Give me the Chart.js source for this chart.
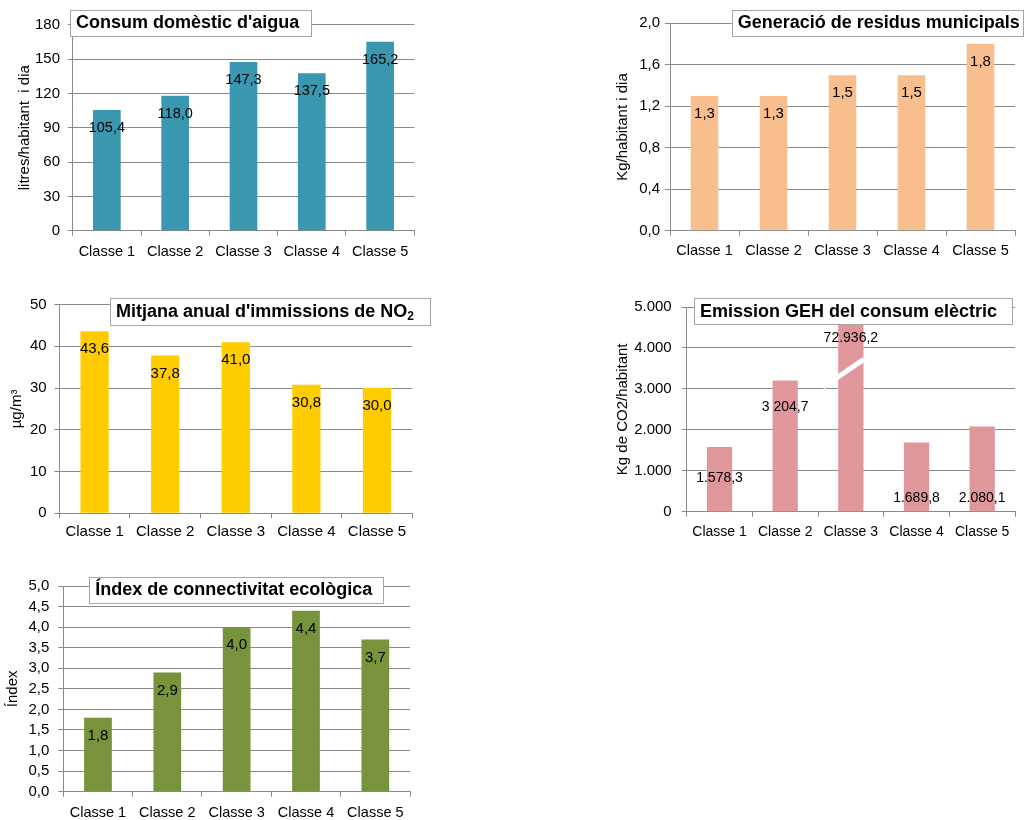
<!DOCTYPE html>
<html>
<head>
<meta charset="utf-8">
<title>Indicadors ambientals per classes</title>
<script src="https://cdn.jsdelivr.net/npm/chart.js@4/dist/chart.umd.min.js"></script>
<style>
  html, body { margin: 0; padding: 0; background: #fff; }
  body { position: relative; width: 1027px; height: 820px; overflow: hidden; }
  canvas { position: absolute; display: block; }
</style>
</head>
<body>
<canvas id="aigua"></canvas>
<canvas id="residus"></canvas>
<canvas id="no2"></canvas>
<canvas id="geh"></canvas>
<canvas id="connectivitat"></canvas>
<script>
// Categories shared by every panel
const classes = ['Classe 1', 'Classe 2', 'Classe 3', 'Classe 4', 'Classe 5'];

// Consum domèstic d'aigua (litres/habitant i dia)
const aiguaValues = [105.4, 118.0, 147.3, 137.5, 165.2];
const aiguaTicks = [0, 30, 60, 90, 120, 150, 180];

// Generació de residus municipals (Kg/habitant i dia)
const residusValues = [1.3, 1.3, 1.5, 1.5, 1.8];
const residusTicks = [0, 0.4, 0.8, 1.2, 1.6, 2.0];

// Mitjana anual d'immissions de NO2 (µg/m³)
const no2Values = [43.6, 37.8, 41.0, 30.8, 30.0];
const no2Ticks = [0, 10, 20, 30, 40, 50];

// Emission GEH del consum elèctric (Kg de CO2/habitant)
const gehValues = [1578.3, 3204.7, 72936.2, 1689.8, 2080.1];
const gehLabels = ['1.578,3', '3 204,7', '72.936,2', '1.689,8', '2.080,1'];
const gehTicks = [0, 1000, 2000, 3000, 4000, 5000];

// Índex de connectivitat ecològica
const connectivitatValues = [1.8, 2.9, 4.0, 4.4, 3.7];
const connectivitatTicks = [0, 0.5, 1.0, 1.5, 2.0, 2.5, 3.0, 3.5, 4.0, 4.5, 5.0];

const FONT = '"Liberation Sans", Arial, Helvetica, sans-serif';
const INK = '#000000';
const GRID = '#8a8a8a';

const int = v => String(Math.round(v));
const dec1 = v => v.toFixed(1).replace('.', ',');
const thousands = v => String(Math.round(v)).replace(/\B(?=(\d{3})+(?!\d))/g, '.');

// Value labels, the optional axis-break slash and the boxed heading
function decorFor(d) {
  return {
    id: 'decor',
    afterDatasetsDraw(chart) {
      const ctx = chart.ctx;
      const ys = chart.scales.y;
      const bars = chart.getDatasetMeta(0).data;
      ctx.save();
      if (d.slash) {
        const b = bars[d.slash.index];
        ctx.strokeStyle = '#ffffff';
        ctx.lineWidth = 5;
        ctx.beginPath();
        ctx.moveTo(b.x + d.slash.dx[0], ys.getPixelForValue(d.slash.v[0]));
        ctx.lineTo(b.x + d.slash.dx[1], ys.getPixelForValue(d.slash.v[1]));
        ctx.stroke();
      }
      ctx.font = d.labelSize + 'px ' + FONT;
      ctx.fillStyle = INK;
      ctx.textAlign = 'center';
      ctx.textBaseline = 'middle';
      bars.forEach((b, i) => {
        const y = d.labelAt ? ys.getPixelForValue(d.labelAt[i]) : b.y + d.drop;
        ctx.fillText(d.labels[i], b.x, y);
      });
      const bx = d.box;
      ctx.fillStyle = '#ffffff';
      ctx.fillRect(bx.x, bx.y, bx.w, bx.h);
      ctx.strokeStyle = '#a6a6a6';
      ctx.lineWidth = 1;
      ctx.strokeRect(Math.round(bx.x) + 0.5, Math.round(bx.y) + 0.5, Math.round(bx.w), Math.round(bx.h));
      let tx = bx.x + 6;
      const ty = bx.y + bx.h / 2 + 0.5;
      ctx.textAlign = 'left';
      ctx.fillStyle = INK;
      d.heading.forEach(part => {
        ctx.font = 'bold ' + (part.sub ? 12 : 18) + 'px ' + FONT;
        ctx.fillText(part.text, tx, ty + (part.sub ? 5 : 0));
        tx += ctx.measureText(part.text).width;
      });
      ctx.restore();
    }
  };
}

function panel(s) {
  const cv = document.getElementById(s.id);
  cv.width = s.w;
  cv.height = s.h;
  cv.style.left = s.left + 'px';
  cv.style.top = s.top + 'px';
  return new Chart(cv, {
    type: 'bar',
    data: {
      labels: classes,
      datasets: [{
        data: s.values,
        backgroundColor: s.color,
        borderWidth: 0,
        barPercentage: s.barPct,
        categoryPercentage: 1,
        clip: 0
      }]
    },
    options: {
      responsive: false,
      animation: false,
      events: [],
      layout: { padding: { top: s.padTop, right: s.padRight, left: 0, bottom: 0 } },
      plugins: { legend: { display: false }, tooltip: { enabled: false }, title: { display: false } },
      scales: {
        x: {
          offset: true,
          grid: { offset: true, drawOnChartArea: false, drawTicks: true, tickLength: 5, color: GRID, lineWidth: 1 },
          border: { display: true, color: GRID, width: 1 },
          ticks: { color: INK, font: { family: FONT, size: s.xSize }, padding: s.xPad, maxRotation: 0, autoSkip: false },
          afterFit: sc => { sc.height = s.xAxisH; }
        },
        y: {
          min: s.ticks[0],
          max: s.ticks[s.ticks.length - 1],
          grid: { color: GRID, lineWidth: 1, tickLength: 5 },
          border: { display: true, color: GRID, width: 1 },
          ticks: { color: INK, font: { family: FONT, size: 15 }, padding: s.yPad, autoSkip: false, callback: v => s.fmt(v) },
          afterBuildTicks: sc => { sc.ticks = s.ticks.map(v => ({ value: v })); },
          afterFit: sc => { sc.width = s.yAxisW; },
          title: { display: true, text: s.yTitle, color: INK, font: { family: FONT, size: 15 }, padding: { top: s.yTitlePad, bottom: 0 } }
        }
      }
    },
    plugins: [decorFor(s.decor)]
  });
}

panel({
  id: 'aigua', left: 0, top: 8, w: 420, h: 262,
  values: aiguaValues, ticks: aiguaTicks, fmt: int, color: '#3A97B0',
  yAxisW: 72.7, padTop: 16, padRight: 5.7, xAxisH: 39.3,
  xSize: 14.5, xPad: 7.3, yPad: 7.7, barPct: 0.405,
  yTitle: 'litres/habitant  i dia', yTitlePad: 16,
  decor: {
    labels: aiguaValues.map(dec1), labelSize: 14.5, drop: 18,
    box: { x: 70, y: 2, w: 241, h: 26 },
    heading: [{ text: "Consum domèstic d'aigua" }]
  }
});

panel({
  id: 'residus', left: 590, top: 8, w: 437, h: 262,
  values: residusValues, ticks: residusTicks, fmt: dec1, color: '#F9BE8E',
  yAxisW: 80, padTop: 15.3, padRight: 12, xAxisH: 39.3,
  xSize: 14.5, xPad: 6.3, yPad: 5, barPct: 0.4,
  yTitle: 'Kg/habitant i dia', yTitlePad: 24.3,
  decor: {
    labels: residusValues.map(dec1), labelSize: 15, drop: 18,
    box: { x: 141.7, y: 2, w: 291.3, h: 26 },
    heading: [{ text: 'Generació de residus municipals' }]
  }
});

panel({
  id: 'no2', left: 0, top: 288, w: 440, h: 262,
  values: no2Values, ticks: no2Ticks, fmt: int, color: '#FFCC00',
  yAxisW: 59.3, padTop: 14.3, padRight: 27.7, xAxisH: 36.7,
  xSize: 15, xPad: 4.7, yPad: 7.6, barPct: 0.4,
  yTitle: 'µg/m³', yTitlePad: 7.7,
  decor: {
    labels: no2Values.map(dec1), labelSize: 15, drop: 18,
    box: { x: 110, y: 10, w: 320, h: 27 },
    heading: [{ text: "Mitjana anual d'immissions de NO" }, { text: '2', sub: true }]
  }
});

panel({
  id: 'geh', left: 590, top: 288, w: 437, h: 262,
  values: gehValues, ticks: gehTicks, fmt: thousands, color: '#E0979C',
  yAxisW: 96.7, padTop: 15.3, padRight: 12, xAxisH: 38.3,
  xSize: 14, xPad: 6.6, yPad: 10, barPct: 0.385,
  yTitle: 'Kg de CO2/habitant', yTitlePad: 24.3,
  decor: {
    labels: gehLabels, labelSize: 14,
    labelAt: [810, 2560, 4240, 320, 320],
    slash: { index: 2, dx: [-28, 13], v: [3040, 3719] },
    box: { x: 104, y: 10.3, w: 317.7, h: 26 },
    heading: [{ text: 'Emission GEH del consum elèctric' }]
  }
});

panel({
  id: 'connectivitat', left: 0, top: 568, w: 420, h: 252,
  values: connectivitatValues, ticks: connectivitatTicks, fmt: dec1, color: '#77933C',
  yAxisW: 63.3, padTop: 15.3, padRight: 10, xAxisH: 28.3,
  xSize: 14.5, xPad: 7.9, yPad: 9, barPct: 0.4,
  yTitle: 'Índex', yTitlePad: 4.3,
  decor: {
    labels: connectivitatValues.map(dec1), labelSize: 15, drop: 18,
    box: { x: 89.3, y: 8.7, w: 294, h: 25.6 },
    heading: [{ text: 'Índex de connectivitat ecològica' }]
  }
});
</script>
</body>
</html>
